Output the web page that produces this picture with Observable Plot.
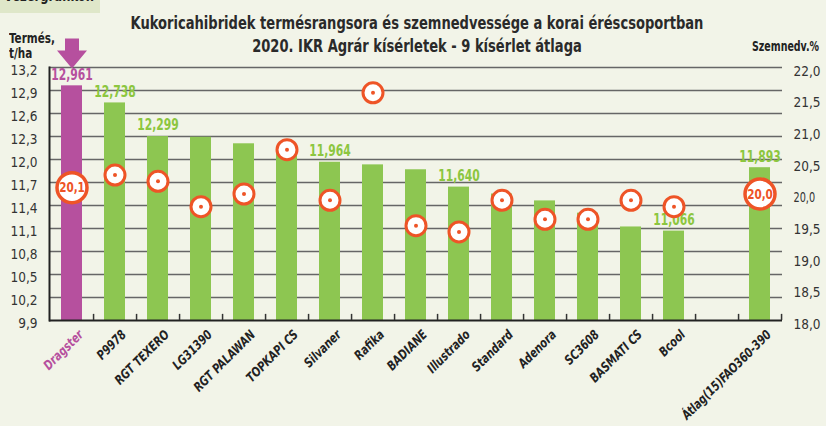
<!DOCTYPE html>
<html>
<head>
<meta charset="utf-8">
<script src="https://cdn.jsdelivr.net/npm/d3@7"></script>
<script src="https://cdn.jsdelivr.net/npm/@observablehq/plot@0.6"></script>
<style>
  html, body { margin: 0; padding: 0; background: #f2f4e8; }
  #wrap { position: relative; width: 826px; height: 426px; overflow: hidden; background: #f2f4e8;
          font-family: "DejaVu Sans Condensed", "Liberation Sans Narrow", sans-serif; }
  .abs { position: absolute; white-space: nowrap; color: #222; }
  #tab { left: 0; top: 0; width: 100px; height: 13px; background: #dfe7c9; overflow: hidden; }
  #tab span { position: absolute; left: 4px; top: -14px; font-weight: bold; font-size: 16px; color: #222;
              transform: scaleX(0.8); transform-origin: left top; }
  #title { left: 0; width: 834px; top: 12px; text-align: center; font-weight: bold; font-size: 17.5px; line-height: 23px; color: #2a2a2a;
           transform: scaleX(0.83); transform-origin: 417px 0; }
  #ytl { left: 9px; top: 31px; font-weight: bold; font-size: 14.5px; line-height: 15px; transform: scaleX(0.8); transform-origin: left top; }
  #ytr { left: 752px; top: 38px; font-weight: bold; font-size: 13.5px; transform: scaleX(0.78); transform-origin: left top; }
  #chart { position: absolute; left: 0; top: 0; }
</style>
</head>
<body>
<div id="wrap">
  <div id="chart"></div>
  <div id="tab" class="abs"><span>Vezérgrafikon</span></div>
  <div id="title" class="abs">Kukoricahibridek termésrangsora és szemnedvessége a korai éréscsoportban<br>2020. IKR Agrár kísérletek - 9 kísérlet átlaga</div>
  <div id="ytl" class="abs">Termés,<br>t/ha</div>
  <div id="ytr" class="abs">Szemnedv.%</div>
</div>
<script>
// ---- data ----
const categories = ["Dragster","P9978","RGT TEXERO","LG31390","RGT PALAWAN","TOPKAPI CS","Silvaner","Rafika","BADIANE","Illustrado","Standard","Adenora","SC3608","BASMATI CS","Bcool","","Átlag(15)FAO360-390"];
const yields     = [12.961, 12.738, 12.299, 12.29, 12.205, 12.08, 11.964, 11.93, 11.866, 11.640, 11.55, 11.46, 11.30, 11.12, 11.066, null, 11.893];
const moisture   = [20.1, 20.3, 20.2, 19.8, 20.0, 20.7, 19.9, 21.6, 19.5, 19.4, 19.9, 19.6, 19.6, 19.9, 19.8, null, 20.0];
const shownYieldLabels = ["Dragster","P9978","RGT TEXERO","Silvaner","Illustrado","Bcool","Átlag(15)FAO360-390"];
const labeledMoisture  = ["Dragster","Átlag(15)FAO360-390"];
const highlight = "Dragster";
const yieldTicks = [9.9, 10.2, 10.5, 10.8, 11.1, 11.4, 11.7, 12.0, 12.3, 12.6, 12.9, 13.2];
const moistTicks = [18.0, 18.5, 19.0, 19.5, 20.0, 20.5, 21.0, 21.5, 22.0];

// ---- helpers ----
const yMin = 9.9, yMax = 13.2, mMin = 18, mMax = 22;
const m2y = m => yMin + (m - mMin) / (mMax - mMin) * (yMax - yMin);
const y2m = y => mMin + (y - yMin) / (yMax - yMin) * (mMax - mMin);
const comma = (v, d) => v.toFixed(d).replace(".", ",");

const GREEN = "#8dc651", GREEN_TXT = "#8cc63f", PURPLE = "#b6509e", ORANGE = "#ee5427";
const FONT = '"DejaVu Sans Condensed", "Liberation Sans Narrow", sans-serif';

const rows = categories.map((c, i) => ({cat: c, y: yields[i], m: moisture[i]}));
const bars = rows.filter(d => d.y != null);

const arrowShape = {
  draw(ctx, l) {
    const hw = 15, sw = 7, hl = 18;
    ctx.moveTo(-sw, 0);
    ctx.lineTo(sw, 0);
    ctx.lineTo(sw, -(l - hl));
    ctx.lineTo(hw, -(l - hl));
    ctx.lineTo(0, -l);
    ctx.lineTo(-hw, -(l - hl));
    ctx.lineTo(-sw, -(l - hl));
    ctx.closePath();
  }
};

const chart = Plot.plot({
  width: 826,
  height: 426,
  marginTop: 67,
  marginBottom: 106,
  marginLeft: 49,
  marginRight: 44,
  style: {background: "transparent", fontFamily: FONT, overflow: "visible"},
  x: {domain: categories, paddingInner: 0.51, paddingOuter: 0.255, axis: null},
  y: {domain: [yMin, yMax], axis: null},
  marks: [
    Plot.ruleY(yieldTicks.slice(1), {stroke: "#666", strokeWidth: 1.6}),
    Plot.barY(bars, {x: "cat", y1: yMin, y2: "y", fill: d => d.cat === highlight ? PURPLE : GREEN}),
    Plot.ruleY([yMin], {stroke: "#222", strokeWidth: 2}),
    Plot.frame({anchor: "left", stroke: "#222", strokeWidth: 2}),
    Plot.ruleX(categories, {x: d => d, dx: 21.56, y1: yMin, y2: yMin + 0.08, stroke: "#333", strokeWidth: 1.5}),
    Plot.axisY({anchor: "left", ticks: yieldTicks, tickSize: 0, tickPadding: 12, tickFormat: d => comma(d, 1),
                fontSize: 13.5, fill: "#333", dy: 3, label: null}),
    Plot.axisY({anchor: "right", ticks: moistTicks.map(m2y), tickSize: 0, tickPadding: 11,
                tickFormat: d => comma(y2m(d), 1), fontSize: 13.5, fill: "#333", dy: 4, label: null}),
    Plot.text(bars.filter(d => shownYieldLabels.includes(d.cat)), {
      x: "cat", y: "y", text: d => comma(d.y, 3), dy: -11, fontSize: 15, fontWeight: "bold",
      fill: d => d.cat === highlight ? PURPLE : GREEN_TXT
    }),
    Plot.dot(rows.filter(d => d.m != null && !labeledMoisture.includes(d.cat)), {
      x: "cat", y: d => m2y(d.m), r: 10, fill: "white", stroke: ORANGE, strokeWidth: 3
    }),
    Plot.dot(rows.filter(d => d.m != null && !labeledMoisture.includes(d.cat)), {
      x: "cat", y: d => m2y(d.m), r: 2, fill: ORANGE
    }),
    Plot.dot(rows.filter(d => labeledMoisture.includes(d.cat)), {
      x: "cat", y: d => m2y(d.m), r: 15, fill: "white", stroke: ORANGE, strokeWidth: 3.5
    }),
    Plot.text(rows.filter(d => labeledMoisture.includes(d.cat)), {
      x: "cat", y: d => m2y(d.m), text: d => comma(d.m, 1), fill: ORANGE, fontWeight: "bold", fontSize: 14.5
    }),
    Plot.text(rows.filter(d => d.cat !== ""), {
      x: "cat", y: yMin, text: "cat", rotate: -45, textAnchor: "end", dx: 9, dy: 12,
      fontSize: 13, fontWeight: "bold", fontStyle: "italic",
      fill: d => d.cat === highlight ? PURPLE : "#222"
    }),
    Plot.vector([highlight], {x: d => d, y: yMax, length: 30, rotate: 180, anchor: "end", dy: 1,
                              shape: arrowShape, fill: PURPLE, stroke: "none"})
  ]
});

// condense SVG label text horizontally (no condensed web font available offline)
const yieldLabelTexts = new Set(bars.map(d => comma(d.y, 3)));
const moistLabelTexts = new Set(rows.filter(d => labeledMoisture.includes(d.cat)).map(d => comma(d.m, 1)));
const catTexts = new Set(categories.filter(c => c !== ""));
function condense(t, s) {
  const tr = t.getAttribute("transform");
  if (tr) {
    t.setAttribute("transform", `${tr} scale(${s},1)`);
  } else {
    const x = +t.getAttribute("x") || 0, y = +t.getAttribute("y") || 0;
    t.removeAttribute("x"); t.removeAttribute("y");
    t.setAttribute("transform", `translate(${x},${y}) scale(${s},1)`);
  }
}
chart.querySelectorAll("text").forEach(t => {
  const s = t.textContent;
  if (catTexts.has(s)) condense(t, 0.86);
  else if (yieldLabelTexts.has(s)) condense(t, 0.8);
  else if (moistLabelTexts.has(s) && t.closest("g[aria-label='tick label']") == null && t.getAttribute("font-size") !== "13.5") condense(t, 0.8);
});
document.getElementById("chart").appendChild(chart);
</script>
</body>
</html>
